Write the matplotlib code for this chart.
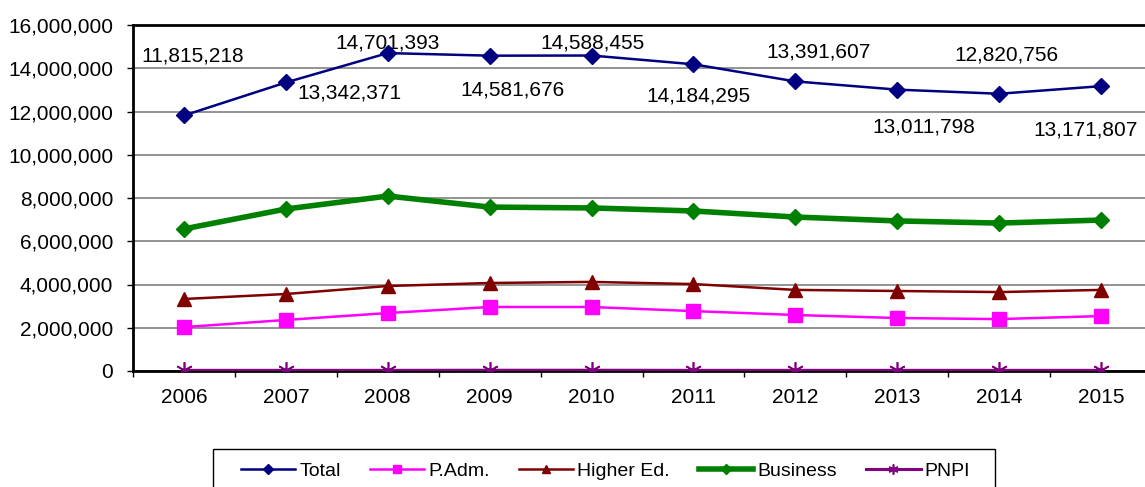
import matplotlib
matplotlib.use("Agg")
import matplotlib.pyplot as plt
from matplotlib.patches import Rectangle
from matplotlib.ticker import FuncFormatter

plt.rcParams['font.family'] = ['Liberation Sans', 'DejaVu Sans']

# data
years = ["2006", "2007", "2008", "2009", "2010", "2011", "2012", "2013", "2014", "2015"]
total = [11815218, 13342371, 14701393, 14581676, 14588455, 14184295, 13391607, 13011798, 12820756, 13171807]
padm = [2030000, 2360000, 2680000, 2960000, 2960000, 2770000, 2590000, 2450000, 2400000, 2540000]
higher = [3330000, 3560000, 3930000, 4070000, 4120000, 4020000, 3750000, 3700000, 3650000, 3750000]
business = [6570000, 7490000, 8090000, 7580000, 7540000, 7400000, 7120000, 6940000, 6840000, 6980000]
pnpi = [30000, 30000, 30000, 35000, 35000, 30000, 30000, 30000, 30000, 30000]

# label offsets (pixels) relative to each Total point
lbl_off = [(9, 59), (64, -11), (0, 10), (23, -34), (1, 13), (5, -32), (23, 29), (27, -37), (7, 39), (-15, -44)]

fig = plt.figure(figsize=(11.45, 4.87), dpi=100)
ax = fig.add_axes([133/1145, 116/487, 1019/1145, 346/487])

x = list(range(len(years)))
ax.plot(x, total, color="#000080", lw=1.8, marker="D", ms=8.5, label="Total", zorder=5)
ax.plot(x, padm, color="#FF00FF", lw=1.8, marker="s", ms=10, label="P.Adm.", zorder=4)
ax.plot(x, higher, color="#800000", lw=1.8, marker="^", ms=10, label="Higher Ed.", zorder=4)
ax.plot(x, business, color="#008000", lw=4, marker="D", ms=8.5, label="Business", zorder=4)
ax.plot(x, pnpi, color="#800080", lw=2.2, marker=(6, 2, 0), ms=12, mew=1.2, label="PNPI", zorder=4)

for i, v in enumerate(total):
    ax.annotate(f"{v:,}", (i, v), xytext=lbl_off[i], textcoords="offset pixels",
                ha="center", va="center", fontsize=15, color="black")

ax.set_xlim(-0.5, len(years) - 0.5)
ax.set_ylim(0, 16000000)
ax.set_yticks(range(0, 16000001, 2000000))
ax.yaxis.set_major_formatter(FuncFormatter(lambda v, p: f"{int(v):,}"))
ax.set_xticks(x)
ax.set_xticklabels(years)
ax.set_xticks([i - 0.5 for i in range(len(years) + 1)], minor=True)
ax.tick_params(axis="x", which="major", length=0, pad=12, labelsize=15)
ax.tick_params(axis="x", which="minor", length=4.3, direction="out", width=1)
ax.tick_params(axis="y", length=4.3, direction="out", width=1, labelsize=15, pad=10)
ax.grid(axis="y", color="#808080", lw=1.2)
ax.set_axisbelow(True)
for s in ["left", "bottom", "top"]:
    ax.spines[s].set_color("black")
    ax.spines[s].set_linewidth(2)
ax.spines["right"].set_visible(False)

# legend (frame drawn separately so it runs off the bottom edge like the original)
leg = fig.legend(loc="upper left", bbox_to_anchor=(241/1145, 1 - 462/487), ncol=5,
                 fontsize=14, frameon=False, handlelength=2.8, columnspacing=1.5,
                 handletextpad=0.2, borderpad=0, borderaxespad=0, markerscale=0.6)
fig.patches.append(Rectangle((213/1145, -0.05), (995 - 213)/1145, 0.05 + (487 - 449)/487,
                             transform=fig.transFigure, fill=False, edgecolor="black", lw=1))

fig.savefig("out.png", dpi=100)
